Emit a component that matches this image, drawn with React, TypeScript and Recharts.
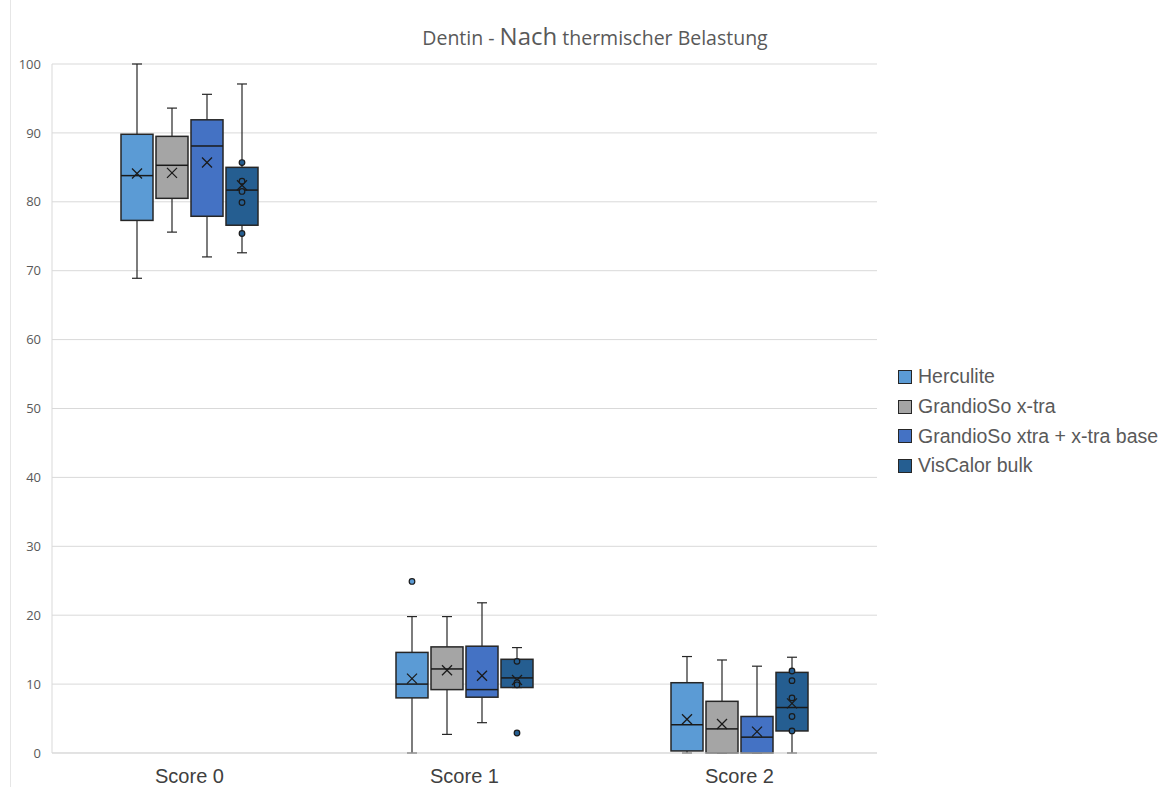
import { ComposedChart, Bar, XAxis, YAxis, CartesianGrid } from "recharts";

const categories = ["Score 0", "Score 1", "Score 2"];
const seriesNames = ["Herculite", "GrandioSo x-tra", "GrandioSo xtra + x-tra base", "VisCalor bulk"];
const colors = ["#5B9BD5", "#A5A5A5", "#4472C4", "#255E91"];
const yTicks = [0, 10, 20, 30, 40, 50, 60, 70, 80, 90, 100];

// [series][category]
const whiskerLow = [
  [68.9, 0, 0],
  [75.6, 2.7, 0],
  [72.0, 4.4, 0],
  [72.6, 9.5, 0],
];
const q1 = [
  [77.3, 8.0, 0.3],
  [80.5, 9.2, 0],
  [77.9, 8.1, 0],
  [76.6, 9.5, 3.2],
];
const median = [
  [83.8, 10.0, 4.1],
  [85.3, 12.2, 3.5],
  [88.1, 9.2, 2.3],
  [81.7, 10.9, 6.6],
];
const q3 = [
  [89.8, 14.6, 10.2],
  [89.5, 15.4, 7.5],
  [91.9, 15.5, 5.3],
  [85.0, 13.6, 11.7],
];
const whiskerHigh = [
  [100, 19.8, 14.0],
  [93.6, 19.8, 13.5],
  [95.6, 21.8, 12.6],
  [97.1, 15.3, 13.9],
];
const mean = [
  [84.1, 10.8, 4.9],
  [84.2, 12.0, 4.2],
  [85.7, 11.2, 3.1],
  [82.4, 10.6, 7.2],
];
const points = [
  [[], [24.9], []],
  [[], [], []],
  [[], [], []],
  [[85.7, 83.0, 81.5, 79.9, 75.4], [13.3, 10.2, 9.9, 2.9], [11.9, 10.5, 8.0, 5.3, 3.2]],
];

const data = categories.map((name, c) => {
  const row: Record<string, unknown> = { name };
  seriesNames.forEach((_, s) => {
    row[`s${s}`] = [q1[s][c], q3[s][c]];
  });
  return row;
});

const makeShape = (s: number) => (props: any) => {
  const { x, y, width, height, index } = props;
  const lo = q1[s][index];
  const hi = q3[s][index];
  const top = Math.min(y, y + height);
  const bottom = Math.max(y, y + height);
  const per = (bottom - top) / (hi - lo);
  const py = (v: number) => bottom - (v - lo) * per;
  const cx = x + width / 2;
  const cap = 5;
  const m = 5;
  const my = py(mean[s][index]);
  return (
    <g>
      <line x1={cx} x2={cx} y1={py(whiskerHigh[s][index])} y2={top} stroke="#262626" strokeWidth={1.2} />
      <line x1={cx} x2={cx} y1={bottom} y2={py(whiskerLow[s][index])} stroke="#262626" strokeWidth={1.2} />
      <line x1={cx - cap} x2={cx + cap} y1={py(whiskerHigh[s][index])} y2={py(whiskerHigh[s][index])} stroke="#262626" strokeWidth={1.2} />
      <line x1={cx - cap} x2={cx + cap} y1={py(whiskerLow[s][index])} y2={py(whiskerLow[s][index])} stroke="#262626" strokeWidth={1.2} />
      <rect x={x} y={top} width={width} height={bottom - top} fill={colors[s]} stroke="#262626" strokeWidth={1.5} />
      <line x1={x} x2={x + width} y1={py(median[s][index])} y2={py(median[s][index])} stroke="#1a1a1a" strokeWidth={1.5} />
      <line x1={cx - m} x2={cx + m} y1={my - m} y2={my + m} stroke="#1a1a1a" strokeWidth={1.3} />
      <line x1={cx - m} x2={cx + m} y1={my + m} y2={my - m} stroke="#1a1a1a" strokeWidth={1.3} />
      {points[s][index].map((v, k) => (
        <circle key={k} cx={cx} cy={py(v)} r={2.8} fill={colors[s]} stroke="#1a1a1a" strokeWidth={1.2} />
      ))}
    </g>
  );
};

export default function App() {
  return (
    <div style={{ position: "absolute", left: 0, top: 0, width: 1168, height: 787, background: "#fff" }}>
      <div style={{ position: "absolute", left: 10, top: 0, width: 1, height: 787, background: "#e6e6e6" }} />
      <div
        style={{
          position: "absolute",
          left: 0,
          width: 1190,
          top: 19,
          textAlign: "center",
          fontFamily: "'Open Sans', 'Noto Sans', sans-serif",
          fontSize: 19.5,
          color: "#595959",
        }}
      >
        Dentin - <span style={{ fontSize: 24 }}>Nach</span> thermischer Belastung
      </div>
      <ComposedChart
        width={1168}
        height={787}
        data={data}
        margin={{ top: 64, right: 291, bottom: 0, left: 0 }}
        barSize={32}
        barGap={3}
      >
        <CartesianGrid vertical={false} stroke="#d9d9d9" />
        <XAxis
          dataKey="name"
          axisLine={{ stroke: "#d9d9d9" }}
          tickLine={false}
          height={34}
          tickMargin={10}
          tick={{ fontSize: 20, fill: "#404040", fontFamily: "'Liberation Sans', Arial, sans-serif" }}
        />
        <YAxis
          domain={[0, 100]}
          ticks={yTicks}
          width={52}
          axisLine={{ stroke: "#d9d9d9" }}
          tickLine={false}
          tickMargin={5}
          tick={{ fontSize: 13, fill: "#595959", fontFamily: "'Open Sans', sans-serif" }}
        />
        {seriesNames.map((n, s) => (
          <Bar key={n} dataKey={`s${s}`} name={n} fill={colors[s]} shape={makeShape(s)} isAnimationActive={false} />
        ))}
      </ComposedChart>
      <div
        style={{
          position: "absolute",
          left: 898,
          top: 362,
          fontFamily: "'Liberation Sans', Arial, sans-serif",
          fontSize: 19.5,
          color: "#595959",
        }}
      >
        {seriesNames.map((n, i) => (
          <div key={n} style={{ display: "flex", alignItems: "center", height: 29.7 }}>
            <span
              style={{
                width: 12,
                height: 12,
                background: colors[i],
                border: "1px solid #262626",
                marginRight: 6,
                display: "inline-block",
              }}
            />
            {n}
          </div>
        ))}
      </div>
    </div>
  );
}
